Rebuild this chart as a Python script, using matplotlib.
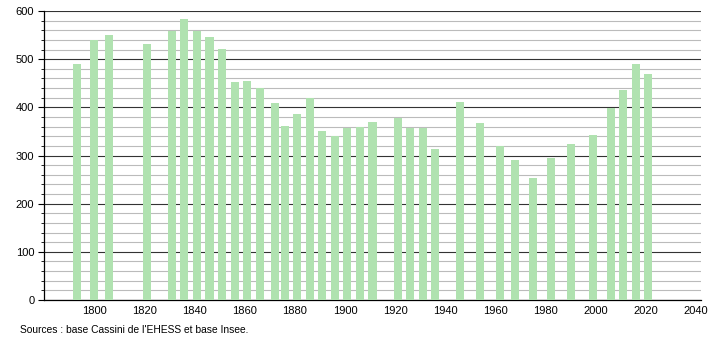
import matplotlib
matplotlib.use("Agg")
import matplotlib.pyplot as plt
from matplotlib.ticker import MultipleLocator

plt.rcParams["font.family"] = ["Liberation Sans", "DejaVu Sans"]

# data
years = [1793, 1800, 1806, 1821, 1831, 1836, 1841, 1846, 1851, 1856, 1861,
         1866, 1872, 1876, 1881, 1886, 1891, 1896, 1901, 1906, 1911, 1921,
         1926, 1931, 1936, 1946, 1954, 1962, 1968, 1975, 1982, 1990, 1999,
         2006, 2011, 2016, 2021]
population = [491, 540, 551, 532, 558, 583, 559, 547, 521, 452, 454,
              441, 410, 361, 386, 420, 350, 340, 357, 359, 369, 378,
              357, 357, 313, 412, 367, 319, 290, 253, 294, 323, 342,
              399, 435, 491, 470]
source = "Sources : base Cassini de l'EHESS et base Insee."

fig = plt.figure(figsize=(7.1, 3.4), dpi=100)
ax = fig.add_axes([44 / 710, 40 / 340, 657 / 710, 289 / 340])

ax.bar(years, population, width=3.2, color="#b0e2b0", zorder=3)

ax.set_xlim(1780, 2042)
ax.set_ylim(0, 600)
ax.set_xticks(range(1800, 2041, 20))
ax.yaxis.set_major_locator(MultipleLocator(100))
ax.yaxis.set_minor_locator(MultipleLocator(20))

ax.grid(axis="y", which="major", color="#333333", linewidth=0.8, zorder=1)
ax.grid(axis="y", which="minor", color="#bbbbbb", linewidth=0.8, zorder=1)

for side in ["top", "right"]:
    ax.spines[side].set_visible(False)
ax.spines["left"].set_linewidth(0.9)
ax.spines["bottom"].set_linewidth(0.9)

ax.tick_params(axis="x", length=0, labelsize=8, pad=4)
ax.tick_params(axis="y", which="major", length=4, labelsize=8, pad=3)
ax.tick_params(axis="y", which="minor", length=2)

fig.text(20 / 710, 10 / 340, source, fontsize=7.4, va="center")

fig.savefig("out.png", dpi=100)
